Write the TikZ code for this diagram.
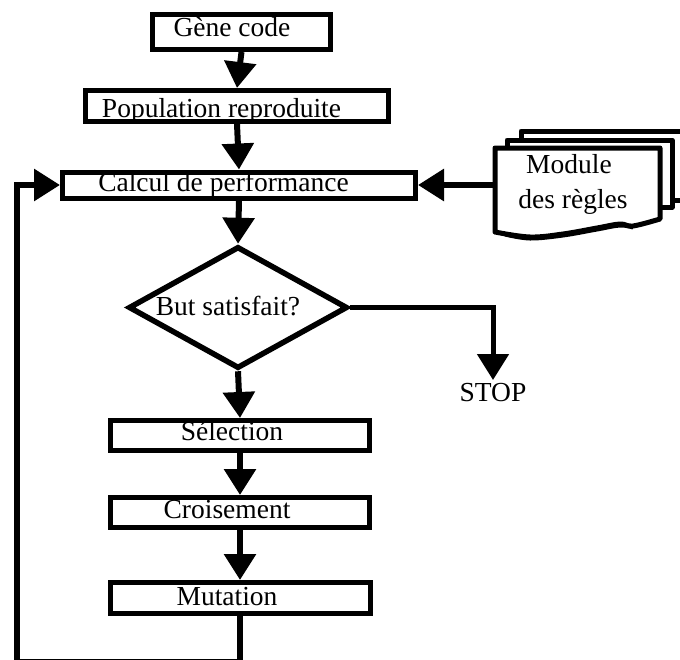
\documentclass[tikz,border=0pt]{standalone}
\usepackage{fontspec}
\setmainfont{Liberation Serif}
\usetikzlibrary{arrows.meta,shapes.geometric}
\begin{document}
\begin{tikzpicture}[x=1pt,y=-1pt,
  box/.style={draw, line width=5pt, rectangle, inner sep=0pt, fill=white},
  lbl/.style={inner sep=0pt, anchor=base, font=\fontsize{27.5}{30}\selectfont},
  arr/.style={line width=6pt, -{Triangle[length=26pt,width=31pt]}},
  doc/.style={draw, line width=5pt, fill=white, line join=round}]
\useasboundingbox (0,0) rectangle (680,659);

% boxes
\node[box, minimum width=178pt, minimum height=35pt] (g) at (241.5,32) {};
\node[lbl] (gt) at (232,36) {Gène code};
\node[box, minimum width=303pt, minimum height=31pt] (p) at (237,106) {};
\node[lbl] (pt) at (221.5,117) {Population reproduite};
\node[box, minimum width=353pt, minimum height=26pt] (c) at (239,185) {};
\node[lbl] (ct) at (223.5,191) {Calcul de performance};
\node[diamond, draw, line width=5.5pt, fill=white, inner sep=0pt,
      minimum width=219pt, minimum height=122pt] (d) at (238,307.5) {};
\node[lbl] (dt) at (228,315) {But satisfait?};
\node[box, minimum width=259pt, minimum height=30pt] (s) at (240,435.5) {};
\node[lbl] (st) at (232,440) {Sélection};
\node[box, minimum width=259pt, minimum height=30pt] (cr) at (240,512.5) {};
\node[lbl] (crt) at (227,518) {Croisement};
\node[box, minimum width=260pt, minimum height=31pt] (m) at (240,598) {};
\node[lbl] (mt) at (227,605) {Mutation};
\node[lbl, anchor=north, inner sep=3pt] (stop) at (493,380) {STOP};

% module des règles (multi-document)
\draw[doc] (521,131) rectangle (700,200);
\draw[doc] (507,140) rectangle (672,207);
\draw[doc] (495,232) -- (495,148) -- (660,148) -- (660,219)
  -- plot[smooth, tension=0.6] coordinates {(660,219) (633,226) (620,224) (597,228) (563,234) (530,237) (495,232)} -- cycle;
\draw[line width=3pt] plot[smooth, tension=0.6] coordinates {(633,228) (620,226) (597,230) (563,236) (530,239) (505,235)};
\node[lbl] (mod1) at (569,173) {Module};
\node[lbl] (mod2) at (573,208) {des règles};
\coordinate (modw) at (495,185);

% connectors
\draw[arr] (g.south) -- (p.north);
\draw[arr] (p.south) -- (c.north);
\draw[arr] (c.south) -- (d.north);
\draw[arr] (d.south) -- (s.north);
\draw[arr] (s.south) -- (cr.north);
\draw[arr] (cr.south) -- (m.north);
\draw[arr] (modw) -- (c.east);
\draw[arr, line width=5pt] (d.east) -| (stop.north);
\coordinate (lb) at (17,661.5);
\draw[arr] (m.south) |- (lb) |- (c.west);
\end{tikzpicture}
\end{document}
